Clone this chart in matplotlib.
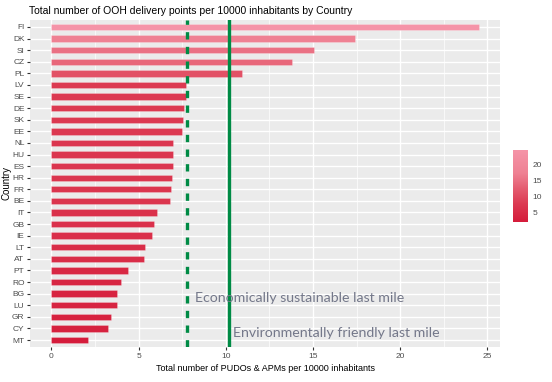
import matplotlib
matplotlib.use("Agg")
import matplotlib.pyplot as plt
import numpy as np
from matplotlib.colors import LinearSegmentedColormap, Normalize

# values, top to bottom
countries = ["FI", "DK", "SI", "CZ", "PL", "LV", "SE", "DE", "SK", "EE",
             "NL", "HU", "ES", "HR", "FR", "BE", "IT", "GB", "IE", "LT",
             "AT", "PT", "RO", "BG", "LU", "GR", "CY", "MT"]
points = [24.5, 17.4, 15.05, 13.8, 10.95, 7.74, 7.7, 7.58, 7.55, 7.47,
          6.97, 6.95, 6.95, 6.93, 6.84, 6.83, 6.05, 5.88, 5.75, 5.39,
          5.29, 4.39, 4.01, 3.76, 3.74, 3.44, 3.23, 2.1]
econ_line = 7.8
env_line = 10.2
cbar_ticks = [5, 10, 15, 20]

plt.rcParams['font.family'] = ['Liberation Sans', 'DejaVu Sans']

fig = plt.figure(figsize=(5.52, 3.82), dpi=100)
W, H = 552, 382
ax = fig.add_axes([30 / W, 1 - 347 / H, 470 / W, 327 / H])

# ggplot-like gradient (Lab interpolation gets light quickly)
cmap = LinearSegmentedColormap.from_list(
    "pinks", [(0.0, "#D51C3B"), (0.25, "#DC3A52"), (0.45, "#E45A6E"),
              (0.55, "#E96C7F"), (0.68, "#EF8193"), (1.0, "#F594A8")])
norm = Normalize(min(points), max(points))

n = len(countries)
ypos = np.arange(n)[::-1]
ax.barh(ypos, points, height=0.55, color=cmap(norm(points)),
        edgecolor=[(1, 1, 1, 0.25)] * n, linewidth=0.6, zorder=3)

ax.set_facecolor("#EBEBEB")
ax.set_xlim(-1.225, 25.725)
ax.set_ylim(-0.6, n - 0.4)
ax.set_xticks([0, 5, 10, 15, 20, 25])
ax.set_xticks([2.5, 7.5, 12.5, 17.5, 22.5], minor=True)
ax.set_yticks(ypos)
ax.set_yticklabels(countries)
ax.grid(which="major", color="white", linewidth=1.0, zorder=0)
ax.grid(which="minor", axis="x", color="white", linewidth=0.5, zorder=0)
for s in ax.spines.values():
    s.set_visible(False)
ax.tick_params(which="major", length=2.5, color="#333333", labelsize=6,
               labelcolor="#4D4D4D", pad=1.5)
ax.tick_params(which="minor", length=0)

ax.axvline(econ_line, color="#008B45", linewidth=2.4, linestyle=(0, (2.2, 2.2)), zorder=4)
ax.axvline(env_line, color="#008B45", linewidth=2.4, zorder=4)

ax.text(econ_line + 0.45, ypos[countries.index("BG")] - 0.35,
        "Economically sustainable last mile", family=["Lato", "DejaVu Sans"],
        fontsize=10.2, color="#74788A", ha="left", va="center", zorder=5)
ax.text(env_line + 0.23, ypos[countries.index("CY")] - 0.35,
        "Environmentally friendly last mile", family=["Lato", "DejaVu Sans"],
        fontsize=10.2, color="#74788A", ha="left", va="center", zorder=5)

ax.set_xlabel("Total number of PUDOs & APMs per 10000 inhabitants",
              fontsize=6.5, color="black", labelpad=3)
ax.set_ylabel("Country", fontsize=7, color="black")
ax.yaxis.set_label_coords(-18 / 470, 0.5)

fig.text(29 / W, 1 - 11 / H, "Total number of OOH delivery points per 10000 inhabitants by Country",
         fontsize=7.5, ha="left", va="center", color="black")

# colour bar legend
cax = fig.add_axes([513 / W, 1 - 222 / H, 15 / W, 72 / H])
grad = np.linspace(min(points), max(points), 200).reshape(-1, 1)
cax.imshow(grad, aspect="auto", cmap=cmap, norm=norm, origin="lower",
           extent=[0, 1, min(points), max(points)])
cax.set_xticks([])
cax.yaxis.tick_right()
cax.set_yticks(cbar_ticks)
cax.tick_params(axis="y", length=0, labelsize=6, labelcolor="#4D4D4D", pad=3)
for s in cax.spines.values():
    s.set_visible(False)

fig.savefig("out.png", dpi=100)
